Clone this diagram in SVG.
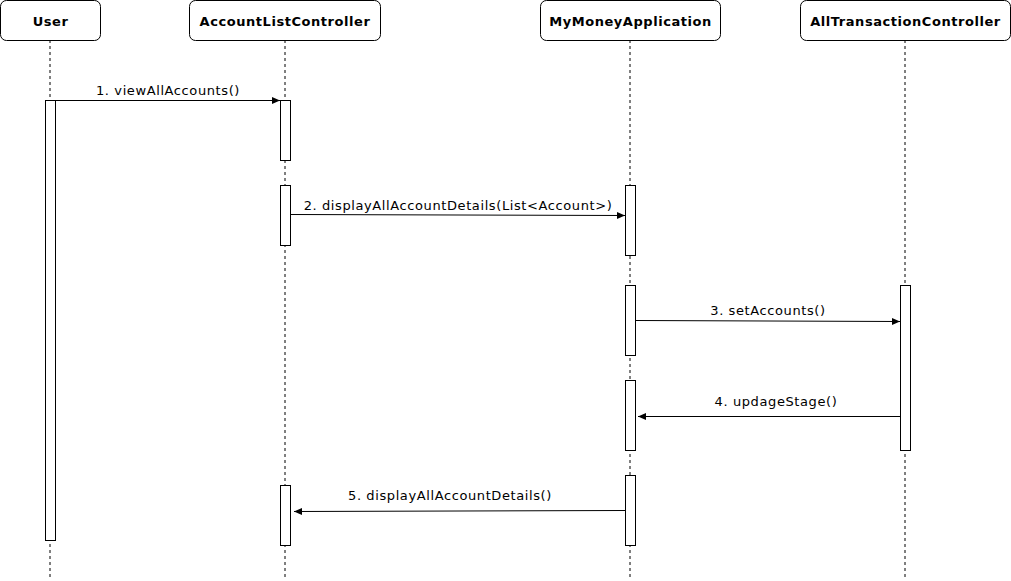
<svg xmlns="http://www.w3.org/2000/svg" width="1011" height="581" viewBox="0 0 1011 581">
<style>
.box{fill:#fff;stroke:#000;stroke-width:1}
.life{stroke:#000;stroke-width:1;stroke-dasharray:3,3;fill:none}
.act{fill:#fff;stroke:#000;stroke-width:1}
.hdr{font-family:"DejaVu Sans",Verdana,sans-serif;font-size:13px;letter-spacing:0.55px;font-weight:bold;text-anchor:middle;fill:#000}
.msg{stroke:#000;stroke-width:1;fill:none;marker-end:url(#ah)}
.lbl{font-family:"DejaVu Sans",Verdana,sans-serif;font-size:13px;letter-spacing:0.6px;text-anchor:middle;fill:#000}
</style>
<defs>
<marker id="ah" markerWidth="10" markerHeight="10" refX="8" refY="4" orient="auto" markerUnits="userSpaceOnUse">
<path d="M0,0.5 L8,4 L0,7.5 Z" fill="#000"/>
</marker>
</defs>
<rect width="1011" height="581" fill="#fff"/>
<g id="lifelines">
<line class="life" x1="50" y1="40" x2="50" y2="580"/>
<line class="life" x1="285" y1="40" x2="285" y2="580"/>
<line class="life" x1="630" y1="40" x2="630" y2="580"/>
<line class="life" x1="905" y1="40" x2="905" y2="580"/>
</g>
<g id="user">
<rect class="box" x="0.5" y="0.5" width="100" height="40" rx="6"/>
<text class="hdr" x="50.5" y="26">User</text>
<rect class="act" x="45.5" y="100.5" width="10" height="440"/>
</g>
<g id="alc">
<rect class="box" x="189.5" y="0.5" width="191" height="40" rx="6"/>
<text class="hdr" x="285" y="26">AccountListController</text>
<rect class="act" x="280.5" y="100.5" width="10" height="60"/>
<rect class="act" x="280.5" y="185.5" width="10" height="60"/>
<rect class="act" x="280.5" y="485.5" width="10" height="60"/>
</g>
<g id="mma">
<rect class="box" x="540.5" y="0.5" width="180" height="40" rx="6"/>
<text class="hdr" x="630.5" y="26">MyMoneyApplication</text>
<rect class="act" x="625.5" y="185.5" width="10" height="70"/>
<rect class="act" x="625.5" y="285.5" width="10" height="70"/>
<rect class="act" x="625.5" y="380.5" width="10" height="70"/>
<rect class="act" x="625.5" y="475.5" width="10" height="70"/>
</g>
<g id="atc">
<rect class="box" x="800.5" y="0.5" width="210" height="40" rx="6"/>
<text class="hdr" x="905.5" y="26">AllTransactionController</text>
<rect class="act" x="900.5" y="285.5" width="10" height="165"/>
</g>
<g id="connectors">
<line class="msg" x1="55.5" y1="100.5" x2="280" y2="100.5"/>
<text class="lbl" x="168" y="95">1. viewAllAccounts()</text>
<line class="msg" x1="291" y1="214.5" x2="625" y2="215.5"/>
<text class="lbl" x="458" y="210">2. displayAllAccountDetails(List&lt;Account&gt;)</text>
<line class="msg" x1="636" y1="320.5" x2="900" y2="321.5"/>
<text class="lbl" x="768" y="315">3. setAccounts()</text>
<line class="msg" x1="900" y1="416.5" x2="638" y2="416.5"/>
<text class="lbl" x="776" y="406">4. updageStage()</text>
<line class="msg" x1="625" y1="510.5" x2="294" y2="511.5"/>
<text class="lbl" x="450" y="500">5. displayAllAccountDetails()</text>
</g>
</svg>
